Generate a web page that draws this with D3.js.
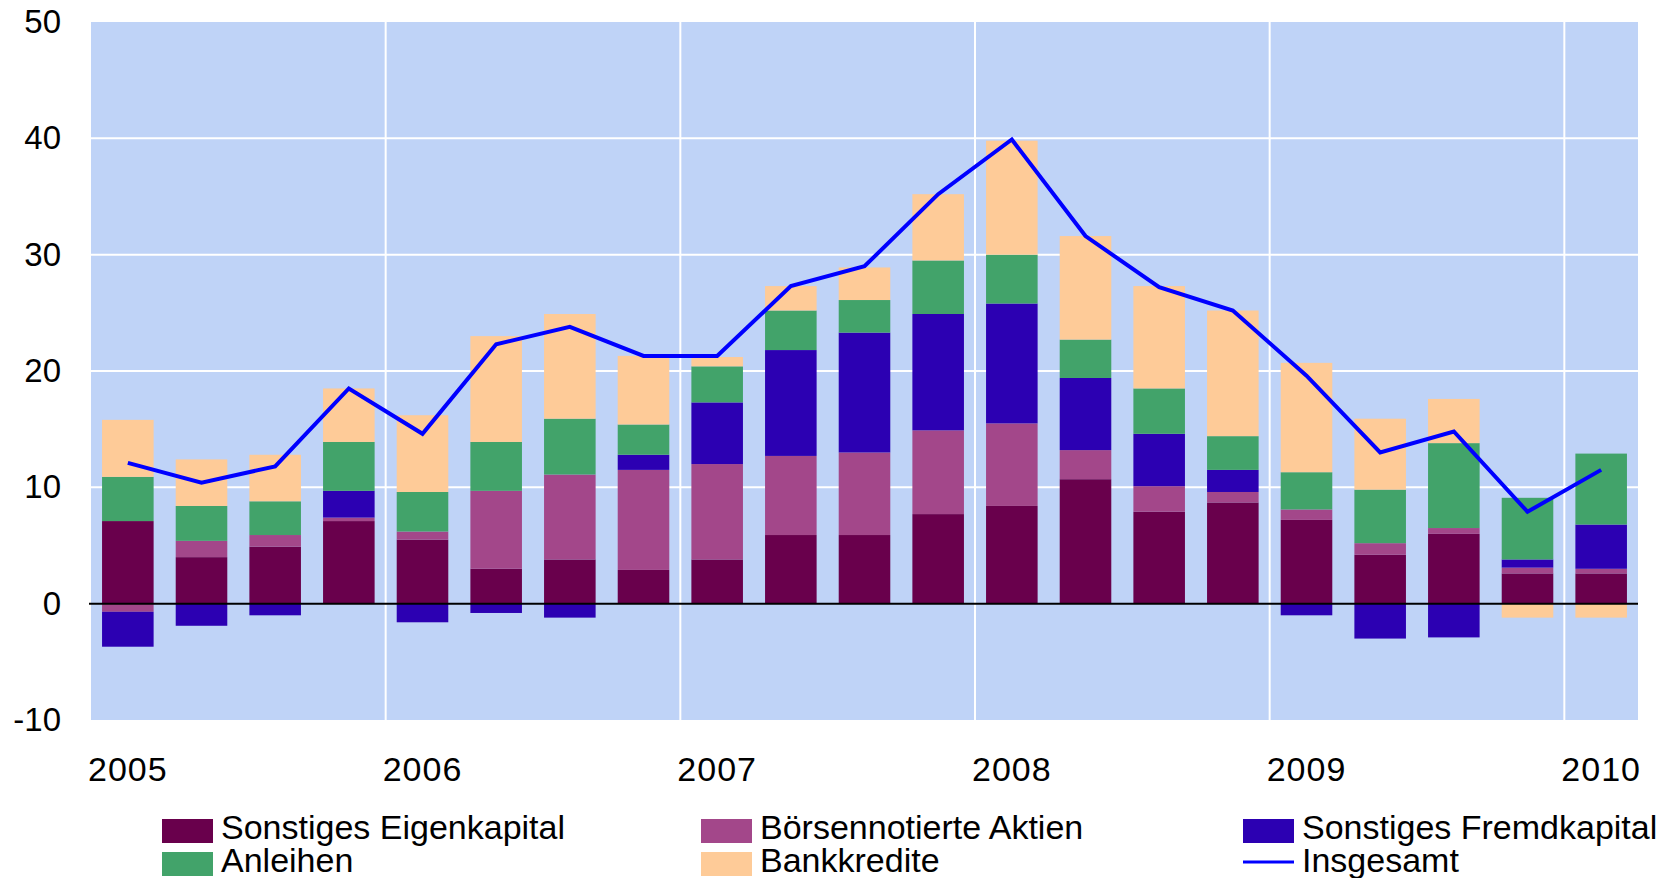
<!DOCTYPE html>
<html>
<head>
<meta charset="utf-8">
<script src="https://cdn.jsdelivr.net/npm/d3@7"></script>
<style>
  body { margin: 0; background: #fff; }
  svg { display: block; font-family: "Liberation Sans", Arial, sans-serif; }
</style>
</head>
<body>
<svg id="chart"></svg>
<script>
// chart size
var width = 1669;
var height = 878;

var margin = { top: 22, left: 91, right: 31, bottom: 158 };

// data (quarterly)
var quarters = ["2005Q1","2005Q2","2005Q3","2005Q4","2006Q1","2006Q2","2006Q3","2006Q4",
                "2007Q1","2007Q2","2007Q3","2007Q4","2008Q1","2008Q2","2008Q3","2008Q4",
                "2009Q1","2009Q2","2009Q3","2009Q4","2010Q1"];
var eigenkapital = [7.1, 4.0, 4.9, 7.1, 5.5, 3.0, 3.8, 2.9, 3.8, 5.9, 5.9, 7.7, 8.4, 10.7, 7.9, 8.7, 7.2, 4.2, 6.0, 2.6, 2.6];
var aktien       = [-0.7, 1.4, 1.0, 0.3, 0.7, 6.7, 7.3, 8.6, 8.2, 6.8, 7.1, 7.2, 7.1, 2.5, 2.2, 0.9, 0.9, 1.0, 0.5, 0.5, 0.4];
var fremdkapital = [-3.0, -1.9, -1.0, 2.3, -1.6, -0.8, -1.2, 1.3, 5.3, 9.1, 10.3, 10.0, 10.3, 6.2, 4.5, 1.9, -1.0, -3.0, -2.9, 0.7, 3.8];
var anleihen     = [3.8, 3.0, 2.9, 4.2, 3.4, 4.2, 4.8, 2.6, 3.1, 3.4, 2.8, 4.6, 4.2, 3.3, 3.9, 2.9, 3.2, 4.6, 7.3, 5.3, 6.1];
var bankkredite  = [4.9, 4.0, 4.0, 4.6, 6.6, 9.1, 9.0, 5.9, 0.8, 2.1, 2.8, 5.7, 9.8, 8.9, 8.8, 10.8, 9.4, 6.1, 3.8, -1.2, -1.2];
var insgesamt    = [12.1, 10.4, 11.8, 18.5, 14.6, 22.3, 23.8, 21.3, 21.3, 27.3, 29.0, 35.2, 39.9, 31.6, 27.2, 25.2, 19.6, 13.0, 14.8, 7.9, 11.5];
var yearLabels = ["2005", "2006", "2007", "2008", "2009", "2010"];
var yTicks = [-10, 0, 10, 20, 30, 40, 50];

var keys = ["eigenkapital", "aktien", "fremdkapital", "anleihen", "bankkredite"];
var names = {
  eigenkapital: "Sonstiges Eigenkapital",
  aktien: "Börsennotierte Aktien",
  fremdkapital: "Sonstiges Fremdkapital",
  anleihen: "Anleihen",
  bankkredite: "Bankkredite"
};
var colors = {
  eigenkapital: "#69004c",
  aktien: "#a3478a",
  fremdkapital: "#2c00b2",
  anleihen: "#42a36a",
  bankkredite: "#fecb98"
};

// table for d3.stack
var table = quarters.map(function(q, i) {
  return {
    q: q,
    eigenkapital: eigenkapital[i],
    aktien: aktien[i],
    fremdkapital: fremdkapital[i],
    anleihen: anleihen[i],
    bankkredite: bankkredite[i],
    insgesamt: insgesamt[i]
  };
});

var svg = d3.select("#chart")
  .attr("width", width)
  .attr("height", height);

// scales
var xScale = d3.scaleBand()
  .domain(quarters)
  .range([margin.left, width - margin.right])
  .paddingInner(0.3)
  .paddingOuter(0.15);
var yScale = d3.scaleLinear()
  .domain([-10, 50])
  .range([height - margin.bottom, margin.top]);

var step = xScale.step();
var edge = function(q) { return xScale(q) - step * 0.15; };

// plot background
svg.append("rect")
  .attr("x", margin.left)
  .attr("y", yScale(50))
  .attr("width", width - margin.right - margin.left)
  .attr("height", yScale(-10) - yScale(50))
  .attr("fill", "#bfd3f7");

// grid
svg.append("g")
  .selectAll("line")
  .data(yTicks.filter(function(d) { return d > -10 && d < 50 && d != 0; }))
  .join("line")
  .attr("x1", margin.left)
  .attr("x2", width - margin.right)
  .attr("y1", function(d) { return yScale(d); })
  .attr("y2", function(d) { return yScale(d); })
  .attr("stroke", "#fff")
  .attr("stroke-width", 2);

svg.append("g")
  .selectAll("line")
  .data(quarters.filter(function(q, i) { return i > 0 && q.slice(4) == "Q1"; }))
  .join("line")
  .attr("x1", function(d) { return edge(d); })
  .attr("x2", function(d) { return edge(d); })
  .attr("y1", yScale(50))
  .attr("y2", yScale(-10))
  .attr("stroke", "#fff")
  .attr("stroke-width", 2);

// stacked bars
var series = d3.stack()
  .keys(keys)
  .offset(d3.stackOffsetDiverging)(table);

svg.append("g")
  .selectAll("g")
  .data(series)
  .join("g")
  .attr("fill", function(d) { return colors[d.key]; })
  .selectAll("rect")
  .data(function(d) { return d; })
  .join("rect")
  .attr("x", function(d) { return xScale(d.data.q); })
  .attr("width", xScale.bandwidth())
  .attr("y", function(d) { return yScale(Math.max(d[0], d[1])); })
  .attr("height", function(d) { return Math.abs(yScale(d[0]) - yScale(d[1])); });

// zero line
svg.append("line")
  .attr("x1", margin.left - 2)
  .attr("x2", width - margin.right)
  .attr("y1", yScale(0))
  .attr("y2", yScale(0))
  .attr("stroke", "#000")
  .attr("stroke-width", 2);

// total line
var valueline = d3.line()
  .x(function(d) { return xScale(d.q) + xScale.bandwidth() / 2; })
  .y(function(d) { return yScale(d.insgesamt); });

svg.append("path")
  .attr("d", valueline(table))
  .attr("fill", "none")
  .attr("stroke", "#0000ff")
  .attr("stroke-width", 4)
  .attr("stroke-linejoin", "miter");

// y axis labels (plain hyphen for the minus, like the original)
var yAxis = svg.append("g")
  .attr("transform", "translate(" + 61 + ",0)")
  .call(d3.axisLeft(yScale).tickValues(yTicks).tickSize(0).tickPadding(0)
        .tickFormat(function(d) { return String(d); }));
yAxis.select(".domain").remove();
yAxis.selectAll("text")
  .attr("font-size", 33)
  .attr("font-family", "Liberation Sans, Arial, sans-serif")
  .attr("fill", "#000");

// x labels at the first quarter of every year
svg.append("g")
  .selectAll("text")
  .data(yearLabels)
  .join("text")
  .attr("x", function(d) { return xScale(d + "Q1") + xScale.bandwidth() / 2; })
  .attr("y", 781)
  .attr("text-anchor", "middle")
  .attr("font-size", 34)
  .attr("letter-spacing", 1)
  .text(function(d) { return d; });

// legend
var legendItems = [
  { key: "eigenkapital", col: 0, row: 0 },
  { key: "aktien", col: 1, row: 0 },
  { key: "fremdkapital", col: 2, row: 0 },
  { key: "anleihen", col: 0, row: 1 },
  { key: "bankkredite", col: 1, row: 1 },
  { key: "insgesamt", col: 2, row: 1 }
];
var colX = [162, 701, 1243];
var rowY = [819, 852];

var legend = svg.append("g");
legendItems.forEach(function(it) {
  var x = colX[it.col], y = rowY[it.row];
  if (it.key == "insgesamt") {
    legend.append("line")
      .attr("x1", x).attr("x2", x + 51)
      .attr("y1", y + 10).attr("y2", y + 10)
      .attr("stroke", "#0000ff")
      .attr("stroke-width", 3);
  } else {
    legend.append("rect")
      .attr("x", x).attr("y", y)
      .attr("width", 51).attr("height", 24)
      .attr("fill", colors[it.key]);
  }
  legend.append("text")
    .attr("x", x + 59)
    .attr("y", y + 20)
    .attr("font-size", 34)
    .text(it.key == "insgesamt" ? "Insgesamt" : names[it.key]);
});
</script>
</body>
</html>
